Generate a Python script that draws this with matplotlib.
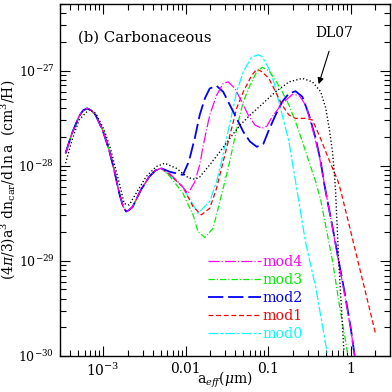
import matplotlib
matplotlib.use('Agg')
import matplotlib.pyplot as plt
from matplotlib.ticker import FixedLocator, FixedFormatter, NullFormatter, LogLocator

# ---------------- data ----------------
# part shared by all five models (a in micron, y in cm^3/H)
a_common = [3.5e-4, 4.2e-4, 5.1e-4, 5.7e-4, 6.4e-4, 7.2e-4, 8.1e-4, 9.8e-4, 1.18e-3,
            1.36e-3, 1.57e-3, 1.75e-3, 1.9e-3, 2.05e-3, 2.28e-3, 2.88e-3, 3.64e-3,
            4.3e-3, 5.05e-3]
y_common = [1.35e-28, 2.2e-28, 3.3e-28, 3.8e-28, 4.0e-28, 3.8e-28, 3.4e-28, 2.4e-28, 1.46e-28,
            9.0e-29, 5.1e-29, 3.7e-29, 3.3e-29, 3.4e-29, 3.7e-29, 5.6e-29, 7.7e-29,
            8.9e-29, 9.4e-29]

mod4_a = [6.38e-3, 8.45e-3, 1.07e-2, 1.29e-2, 1.48e-2, 1.63e-2, 1.79e-2, 1.96e-2, 2.37e-2,
          2.85e-2, 3.28e-2, 3.96e-2, 4.78e-2, 5.75e-2, 6.94e-2, 8.38e-2, 9.64e-2, 0.112,
          0.148, 0.196, 0.237, 0.285, 0.344, 0.415, 0.478, 0.52, 0.603, 0.72, 0.869, 1.0, 1.12]
mod4_y = [8.3e-29, 6.5e-29, 5.1e-29, 6.75e-29, 1.02e-28, 1.61e-28, 2.37e-28, 3.4e-28, 5.5e-28,
          7.3e-28, 7.6e-28, 6.48e-28, 4.7e-28, 3.4e-28, 2.67e-28, 2.47e-28, 2.6e-28, 3.27e-28,
          4.5e-28, 5.6e-28, 5.5e-28, 4.33e-28, 2.47e-28, 1.3e-28, 6.6e-29, 4.4e-29, 2.2e-29,
          9.4e-30, 3.9e-30, 1.95e-30, 1.0e-30]

mod3_a = [6.38e-3, 9.27e-3, 1.23e-2, 1.41e-2, 1.71e-2, 2.15e-2, 2.48e-2, 2.85e-2, 3.28e-2,
          3.78e-2, 4.35e-2, 5.0e-2, 6.03e-2, 7.28e-2, 8.45e-2, 0.102, 0.123, 0.148, 0.179,
          0.215, 0.26, 0.313, 0.377, 0.434, 0.603, 0.72, 0.83, 0.93]
mod3_y = [7.8e-29, 5.13e-29, 3.04e-29, 2.03e-29, 1.76e-29, 2.2e-29, 3.57e-29, 5.79e-29, 9.4e-29,
          1.65e-28, 2.9e-28, 4.7e-28, 7.0e-28, 9.7e-28, 1.08e-27, 1.0e-27, 7.9e-28, 5.98e-28,
          4.33e-28, 2.9e-28, 1.79e-28, 1.1e-28, 6.8e-29, 4.35e-29, 1.0e-29, 3.7e-30, 1.8e-30,
          1.0e-30]

mod2_a = [6.38e-3, 7.7e-3, 9.27e-3, 1.07e-2, 1.12e-2, 1.29e-2, 1.48e-2, 1.71e-2, 1.96e-2,
          2.37e-2, 2.85e-2, 3.44e-2, 4.15e-2, 5.0e-2, 6.03e-2, 7.28e-2, 8.77e-2, 0.102, 0.123,
          0.148, 0.179, 0.215, 0.26, 0.313, 0.377, 0.434, 0.478, 0.52, 0.603, 0.72, 0.869,
          1.0, 1.12]
mod2_y = [8.65e-29, 8.3e-29, 8.0e-29, 1.06e-28, 1.2e-28, 1.94e-28, 3.4e-28, 5.1e-28, 6.48e-28,
          6.9e-28, 5.98e-28, 4.33e-28, 3.14e-28, 2.27e-28, 1.79e-28, 1.58e-28, 1.7e-28,
          2.37e-28, 3.4e-28, 4.7e-28, 5.75e-28, 6.06e-28, 5.3e-28, 3.4e-28, 1.94e-28, 1.1e-28,
          6.5e-29, 4.4e-29, 2.27e-29, 9.8e-30, 4.1e-30, 2.0e-30, 1.0e-30]

mod1_a = [6.38e-3, 9.27e-3, 1.23e-2, 1.55e-2, 1.96e-2, 2.37e-2, 2.72e-2, 3.13e-2, 3.61e-2,
          4.15e-2, 5.0e-2, 6.32e-2, 7.3e-2, 8.45e-2, 0.102, 0.123, 0.148, 0.179, 0.215, 0.285,
          0.344, 0.415, 0.5, 0.603, 0.694, 0.755, 1.0, 1.5, 2.02]
mod1_y = [8.0e-29, 6.0e-29, 3.71e-29, 3.04e-29, 3.57e-29, 5.79e-29, 9.4e-29, 1.52e-28, 2.47e-28,
          4.0e-28, 5.98e-28, 8.9e-28, 1.03e-27, 9.7e-28, 8.27e-28, 5.98e-28, 4.33e-28, 3.4e-28,
          3.14e-28, 3.14e-28, 3.02e-28, 2.1e-28, 1.4e-28, 9.4e-29, 7.1e-29, 5.56e-29, 2.05e-29,
          4.84e-30, 1.67e-30]

mod0_a = [6.38e-3, 9.27e-3, 1.23e-2, 1.41e-2, 1.96e-2, 2.37e-2, 2.72e-2, 3.13e-2, 3.61e-2,
          4.15e-2, 5.0e-2, 6.32e-2, 7.62e-2, 8.45e-2, 0.102, 0.117, 0.135, 0.155, 0.179, 0.196,
          0.215, 0.224, 0.283, 0.38, 0.52]
mod0_y = [8.0e-29, 6.0e-29, 3.9e-29, 3.16e-29, 4.2e-29, 6.8e-29, 1.1e-28, 1.94e-28, 3.4e-28,
          5.98e-28, 9.7e-28, 1.39e-27, 1.46e-27, 1.4e-27, 1.05e-27, 7.6e-28, 4.7e-28, 2.9e-28,
          1.79e-28, 1.1e-28, 6.8e-29, 5.5e-29, 1.6e-29, 5.1e-30, 1.07e-30]

dl07_a = [3.5e-4, 4.2e-4, 5.1e-4, 6.75e-4, 8.15e-4, 1.03e-3, 1.24e-3, 1.36e-3, 1.57e-3, 1.8e-3,
          2.07e-3, 2.51e-3, 3.32e-3, 4.39e-3, 5.55e-3, 7.7e-3, 1.07e-2, 1.3e-2, 1.48e-2, 1.96e-2,
          2.6e-2, 3.44e-2, 4.56e-2, 6.03e-2, 8.2e-2, 0.123, 0.179, 0.26, 0.344, 0.434, 0.5, 0.55,
          0.603, 0.632, 0.656, 0.72, 0.77, 0.829]
dl07_y = [1.06e-28, 1.86e-28, 3.02e-28, 3.9e-28, 3.55e-28, 2.37e-28, 1.46e-28, 1.06e-28,
          6.54e-29, 4.0e-29, 3.87e-29, 5.13e-29, 7.67e-29, 9.76e-29, 1.06e-28, 9.4e-29, 7.5e-29,
          7.2e-29, 7.6e-29, 1.02e-28, 1.4e-28, 1.94e-28, 2.67e-28, 3.4e-28, 4.33e-28, 5.98e-28,
          7.6e-28, 8.27e-28, 7.6e-28, 5.98e-28, 4.0e-28, 2.47e-28, 1.4e-28, 8.65e-29, 5.56e-29,
          9.1e-30, 3.45e-30, 1.12e-30]

series_labels = ['mod4', 'mod3', 'mod2', 'mod1', 'mod0']
x_tick_vals = [1e-3, 1e-2, 1e-1, 1.0]
x_tick_labels = [r'$10^{-3}$', '0.01', '0.1', '1']
y_tick_vals = [1e-30, 1e-29, 1e-28, 1e-27]
y_tick_labels = [r'$10^{-30}$', r'$10^{-29}$', r'$10^{-28}$', r'$10^{-27}$']

# ---------------- style ----------------
plt.rcParams['font.family'] = ['DejaVu Serif']
plt.rcParams['mathtext.fontset'] = 'dejavuserif'
plt.rcParams['lines.scale_dashes'] = False

fig = plt.figure(figsize=(3.92, 3.92), dpi=100)
ax = fig.add_axes([0.1531, 0.0918, 0.8418, 0.898])
ax.set_xscale('log')
ax.set_yscale('log')

styles = {
    'mod4': dict(color='#ff00ff', lw=0.9, dashes=(8, 1.5, 0.8, 1.5)),
    'mod3': dict(color='#00ee00', lw=0.9, dashes=(4.5, 1.5, 0.8, 1.5)),
    'mod2': dict(color='#0000ff', lw=1.3, dashes=(11, 3.5)),
    'mod1': dict(color='#ff0000', lw=0.9, dashes=(3.5, 2)),
    'mod0': dict(color='#00ffff', lw=0.9, dashes=(7, 1.5, 2, 1.5)),
}
tails = {'mod4': (mod4_a, mod4_y), 'mod3': (mod3_a, mod3_y), 'mod2': (mod2_a, mod2_y),
         'mod1': (mod1_a, mod1_y), 'mod0': (mod0_a, mod0_y)}

handles = {}
for name in ['mod0', 'mod1', 'mod3', 'mod2', 'mod4']:
    ta, ty = tails[name]
    h, = ax.plot(a_common + ta, y_common + ty, label=name, **styles[name])
    handles[name] = h
ax.plot(dl07_a, dl07_y, color='black', lw=1.0, dashes=(0.9, 1.6))

ax.set_xlim(3e-4, 3.0)
ax.set_ylim(1e-30, 5e-27)

ax.xaxis.set_major_locator(FixedLocator(x_tick_vals))
ax.xaxis.set_major_formatter(FixedFormatter(x_tick_labels))
ax.yaxis.set_major_locator(FixedLocator(y_tick_vals))
ax.yaxis.set_major_formatter(FixedFormatter(y_tick_labels))
ax.xaxis.set_minor_locator(LogLocator(base=10, subs=range(2, 10), numticks=20))
ax.yaxis.set_minor_locator(LogLocator(base=10, subs=range(2, 10), numticks=20))
ax.xaxis.set_minor_formatter(NullFormatter())
ax.yaxis.set_minor_formatter(NullFormatter())
ax.tick_params(which='both', direction='in', top=True, right=True, width=0.8)
ax.tick_params(which='major', length=7.5)
ax.tick_params(which='minor', length=4)
ax.tick_params(axis='x', which='major', labelsize=10, pad=4)
ax.tick_params(axis='y', which='major', labelsize=9, pad=4)
for s in ax.spines.values():
    s.set_linewidth(1.0)

ax.set_xlabel(r'$\mathrm{a}_{\mathit{eff}}(\mu\mathrm{m})$', fontsize=10)
ax.xaxis.label.set_va('center')
ax.xaxis.set_label_coords(0.5, -0.067)
ax.set_ylabel(r'$(4\pi/3)\mathrm{a}^3\ \mathrm{dn_{car}/d\,ln\,a\ \ (cm^3/H)}$', fontsize=10)
ax.yaxis.label.set_va('center')
ax.yaxis.set_label_coords(-0.155, 0.5)

ax.text(0.055, 0.903, '(b) Carbonaceous', transform=ax.transAxes, fontsize=10.7,
        ha='left', va='center')
ax.annotate('DL07', xy=(0.41, 7.2e-28), xytext=(0.64, 2.45e-27), fontsize=10,
            ha='center', va='center',
            arrowprops=dict(arrowstyle='-|>', color='black', lw=0.8,
                            mutation_scale=9, shrinkA=6, shrinkB=0))

order = ['mod4', 'mod3', 'mod2', 'mod1', 'mod0']
ax.legend([handles[n] for n in order], series_labels, loc='upper left',
          bbox_to_anchor=(0.448, 0.286), frameon=False, fontsize=10.3,
          handlelength=3.7, handletextpad=0.15, labelspacing=0.27,
          borderpad=0, borderaxespad=0, labelcolor='linecolor')

fig.savefig('out.png', dpi=100)
